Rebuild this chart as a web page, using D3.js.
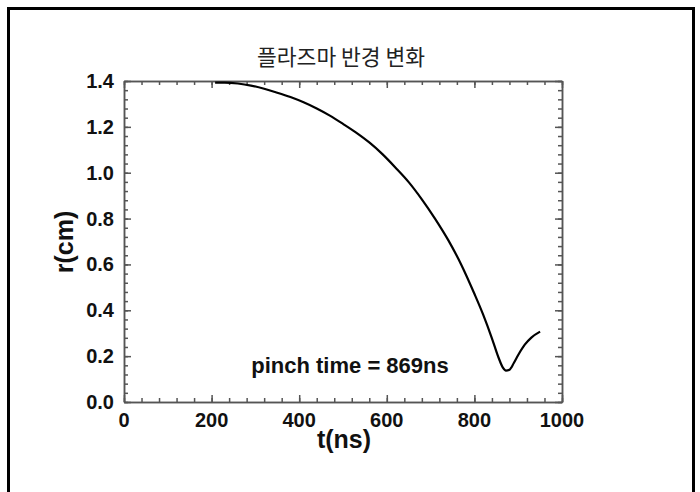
<!DOCTYPE html>
<html><head><meta charset="utf-8">
<script src="https://cdn.jsdelivr.net/npm/d3@7"></script>
<style>body{margin:0;background:#fff}svg{display:block}</style>
</head><body>
<script>
const title = "플라즈마 반경 변화";
const xLabel = "t(ns)";
const yLabel = "r(cm)";
const note = "pinch time = 869ns";
const tValues = [208,230,260,290,320,350,380,410,440,470,500,530,560,590,620,650,680,710,740,770,800,820,840,855,865,872,880,890,900,915,930,950];
const rValues = [1.393,1.393,1.389,1.380,1.366,1.349,1.330,1.307,1.280,1.249,1.213,1.175,1.132,1.081,1.022,0.959,0.884,0.800,0.707,0.599,0.472,0.381,0.278,0.194,0.150,0.137,0.141,0.170,0.205,0.250,0.281,0.307];
const xTicks = [0,200,400,600,800,1000];
const yTicks = [0.0,0.2,0.4,0.6,0.8,1.0,1.2,1.4];

const W=700,H=492;
const svg=d3.select("body").append("svg").attr("width",W).attr("height",H);
svg.append("rect").attr("x",8.5).attr("y",8.5).attr("width",685).attr("height",520)
  .attr("fill","none").attr("stroke","#000").attr("stroke-width",3);

const L=124,R=562,T=81,B=402;
const x=d3.scaleLinear().domain([0,1000]).range([L,R]);
const y=d3.scaleLinear().domain([0,1.4]).range([B,T]);
const axCol="#555";

const minorX=d3.range(0,1001,40), minorY=d3.range(0,1.4001,0.04);
const g=svg.append("g");
function tickAxis(axisGen, tr){
  const a=g.append("g").attr("transform",tr).call(axisGen);
  a.selectAll("path,line").attr("stroke",axCol).attr("stroke-width",1.5);
  a.selectAll("text").remove();
  return a;
}
tickAxis(d3.axisBottom(x).tickValues(minorX).tickSize(-4).tickSizeOuter(0),`translate(0,${B})`);
tickAxis(d3.axisBottom(x).tickValues(xTicks).tickSize(-7).tickSizeOuter(0),`translate(0,${B})`);
tickAxis(d3.axisTop(x).tickValues(minorX).tickSize(-4).tickSizeOuter(0),`translate(0,${T})`);
tickAxis(d3.axisTop(x).tickValues(xTicks).tickSize(-7).tickSizeOuter(0),`translate(0,${T})`);
tickAxis(d3.axisLeft(y).tickValues(minorY).tickSize(-4).tickSizeOuter(0),`translate(${L},0)`);
tickAxis(d3.axisLeft(y).tickValues(yTicks).tickSize(-7).tickSizeOuter(0),`translate(${L},0)`);
tickAxis(d3.axisRight(y).tickValues(minorY).tickSize(-4).tickSizeOuter(0),`translate(${R},0)`);
tickAxis(d3.axisRight(y).tickValues(yTicks).tickSize(-7).tickSizeOuter(0),`translate(${R},0)`);

const font="Liberation Sans, Arial, sans-serif";
g.selectAll(".xl").data(xTicks).enter().append("text")
  .attr("x",d=>x(d)).attr("y",B+25).attr("text-anchor","middle")
  .attr("font-family",font).attr("font-weight","bold").attr("font-size",20).attr("fill","#111")
  .text(d=>d);
g.selectAll(".yl").data(yTicks).enter().append("text")
  .attr("x",L-10).attr("y",d=>y(d)+7).attr("text-anchor","end")
  .attr("font-family",font).attr("font-weight","bold").attr("font-size",20).attr("fill","#111")
  .text(d=>d.toFixed(1));

const data=tValues.map((t,i)=>({t,r:rValues[i]}));
svg.append("path").datum(data).attr("fill","none").attr("stroke","#000").attr("stroke-width",2.2)
  .attr("d",d3.line().x(d=>x(d.t)).y(d=>y(d.r)).curve(d3.curveMonotoneX));

svg.append("text").attr("x",341).attr("y",65).attr("text-anchor","middle")
  .attr("font-family","Noto Sans CJK KR, sans-serif").attr("font-size",21.5).attr("fill","#222").text(title);
svg.append("text").attr("x",344).attr("y",448).attr("text-anchor","middle")
  .attr("font-family",font).attr("font-weight","bold").attr("font-size",25).attr("fill","#111").text(xLabel);
svg.append("text").attr("transform","translate(73,242) rotate(-90)").attr("text-anchor","middle")
  .attr("font-family",font).attr("font-weight","bold").attr("font-size",25).attr("fill","#111").text(yLabel);
svg.append("text").attr("x",350).attr("y",373).attr("text-anchor","middle")
  .attr("font-family",font).attr("font-weight","bold").attr("font-size",22).attr("fill","#111").text(note);
</script>
</body></html>
